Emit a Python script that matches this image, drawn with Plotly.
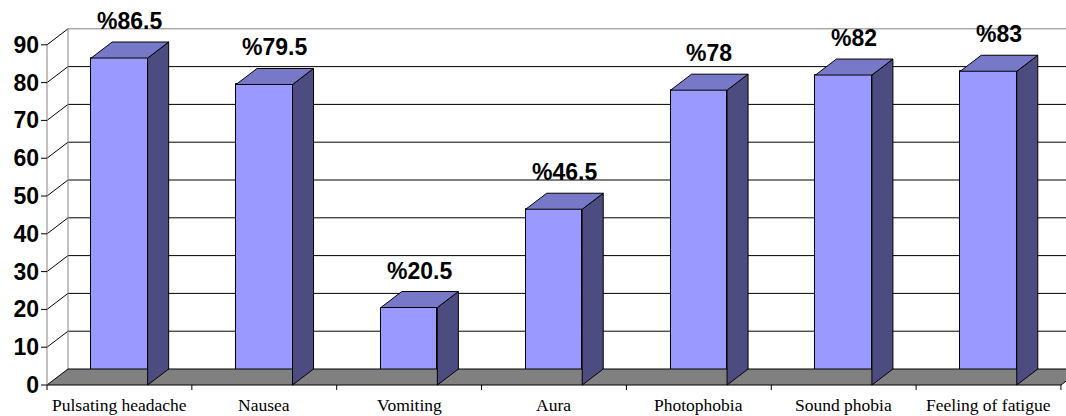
import plotly.graph_objects as go

categories = ["Pulsating headache", "Nausea", "Vomiting", "Aura",
              "Photophobia", "Sound phobia", "Feeling of fatigue"]
values = [86.5, 79.5, 20.5, 46.5, 78, 82, 83]
value_labels = ["%86.5", "%79.5", "%20.5", "%46.5", "%78", "%82", "%83"]
y_ticks = [0, 10, 20, 30, 40, 50, 60, 70, 80, 90]

# geometry (pixels per unit) of the pseudo-3D frame
PX_X = 144.85
PX_Y = 3.78
DX = 21 / PX_X          # depth offset in x units
DY = 16 / PX_Y          # depth offset in y units
BW = 0.39               # bar width in category units
L_MARGIN, B_MARGIN = 40, 23
W, H = 1066, 416
X0 = -7 / PX_X
X1 = X0 + (W - L_MARGIN) / PX_X
Y0 = -8 / PX_Y
Y1 = Y0 + (H - B_MARGIN) / PX_Y
n = len(categories)
ymax = y_ticks[-1]

FRONT = "#9999FF"
TOP = "#7878C8"
SIDE = "#4C4C80"
FLOOR = "#808080"
WALL_EDGE = "#8C8080"

fig = go.Figure()
shapes = []

# back wall gridlines
for v in y_ticks[1:]:
    shapes.append(dict(type="line", xref="x", yref="y", layer="below",
                       x0=DX, x1=X1 + 1, y0=v + DY, y1=v + DY,
                       line=dict(color=WALL_EDGE if v == ymax else "black", width=1)))
# left wall diagonals
for v in y_ticks[1:]:
    shapes.append(dict(type="line", xref="x", yref="y", layer="below",
                       x0=0, x1=DX, y0=v, y1=v + DY,
                       line=dict(color="black", width=1)))
# left wall back edge and front axis
shapes.append(dict(type="line", xref="x", yref="y", layer="below",
                   x0=DX, x1=DX, y0=DY, y1=ymax + DY,
                   line=dict(color=WALL_EDGE, width=1)))
shapes.append(dict(type="line", xref="x", yref="y", layer="above",
                   x0=0, x1=0, y0=0, y1=ymax,
                   line=dict(color=WALL_EDGE, width=1)))
# y tick marks
for v in y_ticks:
    shapes.append(dict(type="line", xref="x", yref="y", layer="above",
                       x0=-6 / PX_X, x1=0, y0=v, y1=v,
                       line=dict(color="black", width=1)))
# x tick marks at category boundaries
for k in range(n + 1):
    shapes.append(dict(type="line", xref="x", yref="y", layer="above",
                       x0=k, x1=k, y0=0, y1=-5 / PX_Y,
                       line=dict(color="black", width=1)))

# floor
fig.add_trace(go.Scatter(
    x=[0, n, n + DX, DX, 0], y=[0, 0, DY, DY, 0], mode="lines",
    fill="toself", fillcolor=FLOOR, line=dict(color="black", width=1),
    hoverinfo="skip", showlegend=False))

# front faces
xc = [i + 0.5 for i in range(n)]
fig.add_trace(go.Bar(
    x=xc, y=values, width=BW, marker=dict(color=FRONT, line=dict(color="black", width=1)),
    showlegend=False, hoverinfo="skip"))

# side and top faces
sx, sy, tx, ty = [], [], [], []
for c, v in zip(xc, values):
    xa, xb = c - BW / 2, c + BW / 2
    sx += [xb, xb, xb + DX, xb + DX, xb, None]
    sy += [0, v, v + DY, DY, 0, None]
    tx += [xa, xb, xb + DX, xa + DX, xa, None]
    ty += [v, v, v + DY, v + DY, v, None]
fig.add_trace(go.Scatter(x=sx, y=sy, mode="lines", fill="toself", fillcolor=SIDE,
                         line=dict(color="black", width=1), hoverinfo="skip", showlegend=False))
fig.add_trace(go.Scatter(x=tx, y=ty, mode="lines", fill="toself", fillcolor=TOP,
                         line=dict(color="black", width=1), hoverinfo="skip", showlegend=False))

annotations = []
for c, v, lab in zip(xc, values, value_labels):
    annotations.append(dict(x=c + DX / 2, y=v + DY, xref="x", yref="y", text=lab,
                            showarrow=False, yanchor="bottom", yshift=6,
                            font=dict(family="Liberation Sans, Arial", size=23,
                                      color="black", weight="bold")))
for c, cat in zip(xc, categories):
    annotations.append(dict(x=c, y=0, xref="x", yref="y", text=cat, showarrow=False,
                            yanchor="middle", yshift=-20,
                            font=dict(family="Liberation Serif, Times New Roman", size=17.5,
                                      color="black")))

fig.update_layout(
    width=W, height=H,
    margin=dict(l=L_MARGIN, r=0, t=0, b=B_MARGIN, pad=0),
    paper_bgcolor="white", plot_bgcolor="white",
    bargap=0, barmode="overlay",
    shapes=shapes, annotations=annotations,
    xaxis=dict(range=[X0, X1], showgrid=False, zeroline=False, showline=False,
               showticklabels=False, ticks="", fixedrange=True),
    yaxis=dict(range=[Y0, Y1], tickvals=y_ticks, ticks="", showgrid=False,
               zeroline=False, showline=False, fixedrange=True,
               tickfont=dict(family="Liberation Sans, Arial", size=23,
                             color="black", weight="bold")),
)

fig.write_html("out.html", config={"displayModeBar": False})
